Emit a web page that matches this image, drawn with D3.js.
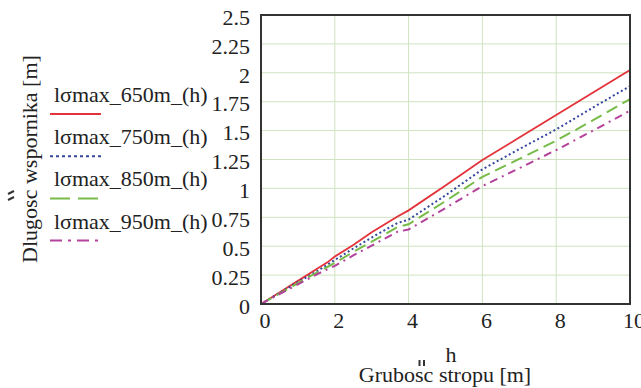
<!DOCTYPE html>
<html>
<head>
<meta charset="utf-8">
<script src="https://cdn.jsdelivr.net/npm/d3@7"></script>
<style>
  html, body { margin: 0; padding: 0; background: #fff; }
  svg { display: block; }
  text { font-family: "Liberation Serif", "Times New Roman", serif; fill: #222; }
</style>
</head>
<body>
<svg id="chart" width="641" height="388"></svg>
<script>
// Grubość stropu h [m]
const hValues = [0, 0.5, 1, 1.5, 1.8, 2, 2.5, 3, 3.7, 4, 5, 6, 7, 8, 9, 10];

// Długość wspornika [m] for each depth
const l650 = [0, 0.10, 0.20, 0.30, 0.36, 0.41, 0.51, 0.62, 0.757, 0.81, 1.025, 1.245, 1.44, 1.635, 1.83, 2.024];
const l750 = [0, 0.095, 0.19, 0.28, 0.34, 0.38, 0.48, 0.575, 0.70, 0.73, 0.94, 1.165, 1.34, 1.51, 1.70, 1.885];
const l850 = [0, 0.09, 0.18, 0.27, 0.32, 0.355, 0.45, 0.54, 0.665, 0.69, 0.89, 1.10, 1.255, 1.413, 1.59, 1.772];
const l950 = [0, 0.085, 0.17, 0.255, 0.30, 0.33, 0.42, 0.505, 0.625, 0.645, 0.83, 1.02, 1.175, 1.332, 1.50, 1.672];

const seriesNames = ["lσmax_650m_(h)", "lσmax_750m_(h)", "lσmax_850m_(h)", "lσmax_950m_(h)"];
const seriesValues = [l650, l750, l850, l950];

const xTicks = [0, 2, 4, 6, 8, 10];
const yTicks = [0, 0.25, 0.5, 0.75, 1, 1.25, 1.5, 1.75, 2, 2.25, 2.5];

const styles = [
  { color: "#e3323a", plotDash: null,        legendDash: null },
  { color: "#34479c", plotDash: "2,2.6",     legendDash: "3,3" },
  { color: "#77bb48", plotDash: "12,6",      legendDash: "20,8" },
  { color: "#b4429c", plotDash: "8,5,2,5",   legendDash: "12,6,3,6" }
];

const svg = d3.select("#chart");
const plotLeft = 261, plotRight = 630, plotTop = 15, plotBottom = 304;

const x = d3.scaleLinear().domain([0, 10]).range([plotLeft, plotRight]);
const y = d3.scaleLinear().domain([0, 2.5]).range([plotBottom, plotTop]);

// grid
const grid = svg.append("g").attr("stroke", "#cfe3c1").attr("stroke-width", 1);
grid.selectAll("line.h").data(yTicks.filter(v => v > 0 && v < 2.5)).enter()
  .append("line").attr("class", "h")
  .attr("x1", plotLeft).attr("x2", plotRight)
  .attr("y1", d => y(d)).attr("y2", d => y(d));
grid.selectAll("line.v").data(xTicks.filter(v => v > 0 && v < 10)).enter()
  .append("line").attr("class", "v")
  .attr("y1", plotTop).attr("y2", plotBottom)
  .attr("x1", d => x(d)).attr("x2", d => x(d));

// series
const line = d3.line().x(d => x(d[0])).y(d => y(d[1]));
seriesValues.forEach((vals, i) => {
  const pts = hValues.map((h, k) => [h, vals[k]]);
  svg.append("path")
    .attr("d", line(pts))
    .attr("fill", "none")
    .attr("stroke", styles[i].color)
    .attr("stroke-width", i === 0 ? 1.8 : 2)
    .attr("stroke-dasharray", styles[i].plotDash);
});

// frame
svg.append("rect")
  .attr("x", plotLeft).attr("y", plotTop)
  .attr("width", plotRight - plotLeft).attr("height", plotBottom - plotTop)
  .attr("fill", "none").attr("stroke", "#333").attr("stroke-width", 2);

// axes
const yAxis = d3.axisLeft(y).tickValues(yTicks).tickSize(0).tickPadding(11)
  .tickFormat(d => String(d));
const gy = svg.append("g").attr("transform", `translate(${plotLeft},0)`).call(yAxis);
gy.select(".domain").remove();
gy.selectAll("text").attr("dy", "0.42em")
  .style("font-family", '"Liberation Serif", serif').style("font-size", "22px").attr("fill", "#222");

const xAxis = d3.axisBottom(x).tickValues(xTicks).tickSize(0).tickPadding(8)
  .tickFormat(d => String(d));
const gx = svg.append("g").attr("transform", `translate(0,${plotBottom})`).call(xAxis);
gx.select(".domain").remove();
gx.selectAll("text").attr("dx", 3.5)
  .style("font-family", '"Liberation Serif", serif').style("font-size", "22px").attr("fill", "#222");

// axis titles
svg.append("text").attr("x", 451).attr("y", 362).attr("text-anchor", "middle")
  .style("font-size", "22px").text("h");
svg.append("text").attr("x", 445).attr("y", 382).attr("text-anchor", "middle")
  .style("font-size", "22px").text("Grubosc stropu [m]");
// accent strokes over "s"
const accent = svg.append("g").attr("stroke", "#333").attr("stroke-width", 2);
[419.5, 424].forEach(ax => accent.append("line")
  .attr("x1", ax).attr("x2", ax).attr("y1", 360).attr("y2", 366));

svg.append("text").attr("transform", "translate(37,159) rotate(-90)")
  .attr("text-anchor", "middle").style("font-size", "22px")
  .text("Dlugosc wspornika [m]");
[[194, 191], [200, 197]].forEach(([y1, y2]) => accent.append("line")
  .attr("x1", 8).attr("x2", 14).attr("y1", y1).attr("y2", y2));

// legend
seriesNames.forEach((name, i) => {
  const by = 102 + i * 42.2;
  svg.append("text").attr("x", 54).attr("y", by)
    .style("font-size", "22px").text(name);
  svg.append("line")
    .attr("x1", 50).attr("x2", 101)
    .attr("y1", by + 12).attr("y2", by + 12)
    .attr("stroke", styles[i].color).attr("stroke-width", 2)
    .attr("stroke-dasharray", styles[i].legendDash);
});
</script>
</body>
</html>
